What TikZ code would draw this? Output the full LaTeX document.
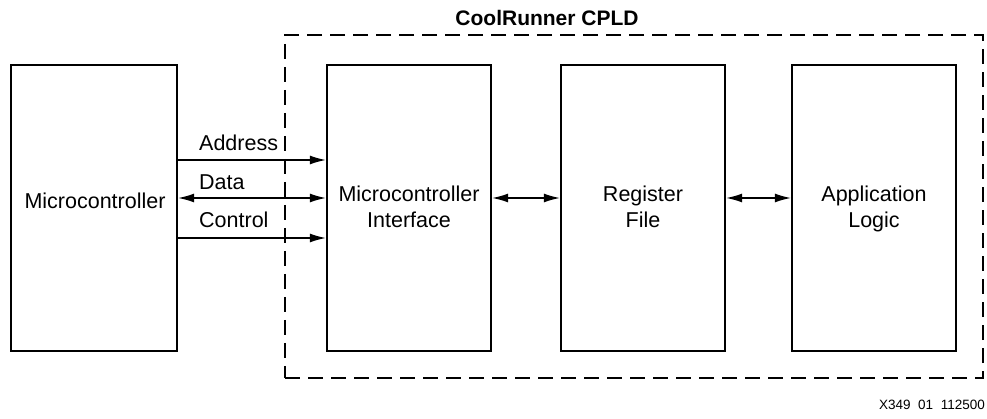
\documentclass[tikz,border=0pt]{standalone}
\usepackage{fontspec}
\setmainfont{Liberation Sans}
\usetikzlibrary{arrows.meta}
\begin{document}
\begin{tikzpicture}[x=1pt,y=-1pt,
  blk/.style={draw,line width=2.4pt,minimum width=164pt,minimum height=286pt,inner sep=0pt},
  txt/.style={font=\fontsize{21.5}{26}\selectfont,align=center,inner sep=0pt},
  arr/.style={line width=1.3pt,-{Latex[length=16pt,width=9pt]}},
  biarr/.style={line width=1.3pt,{Latex[length=16pt,width=9pt]}-{Latex[length=16pt,width=9pt]}}]
\useasboundingbox (0,0) rectangle (987,419);
\node[draw,dashed,dash pattern=on 15pt off 8pt,line width=1.3pt,minimum width=698pt,minimum height=343pt,inner sep=0pt] (cpld) at (634,206.5) {};
\node[txt,font=\fontsize{21}{25}\selectfont\bfseries] (title) at (547,18) {CoolRunner CPLD};
\node[blk,minimum width=166pt] (mc) at (94,208) {};
\node[blk] (mi) at (409,208) {};
\node[blk] (rf) at (643,208) {};
\node[blk] (al) at (874,208) {};
\node[txt] (mct) at (95,203.8) {Microcontroller\strut};
\node[txt] (mit) at (409,209.8) {Microcontroller\strut\\Interface\strut};
\node[txt] (rft) at (643,209.8) {Register\strut\\File\strut};
\node[txt] (alt) at (874,209.8) {Application\strut\\Logic\strut};
\draw[arr] (mc.east |- 0,160) -- (mi.west |- 0,160);
\draw[biarr] (mc.east |- 0,198) -- (mi.west |- 0,198);
\draw[arr] (mc.east |- 0,238) -- (mi.west |- 0,238);
\node[txt,anchor=west] (la) at (199,143) {Address};
\node[txt,anchor=west] (ld) at (199,182) {Data};
\node[txt,anchor=west] (lc) at (199,220) {Control};
\draw[biarr] (mi.east |- 0,198) -- (rf.west |- 0,198);
\draw[biarr] (rf.east |- 0,198) -- (al.west |- 0,198);
\node[txt,font=\fontsize{13.5}{16}\selectfont,anchor=east] (foot) at (985,405) {X349\ \ 01\ \ 112500};
\end{tikzpicture}
\end{document}
